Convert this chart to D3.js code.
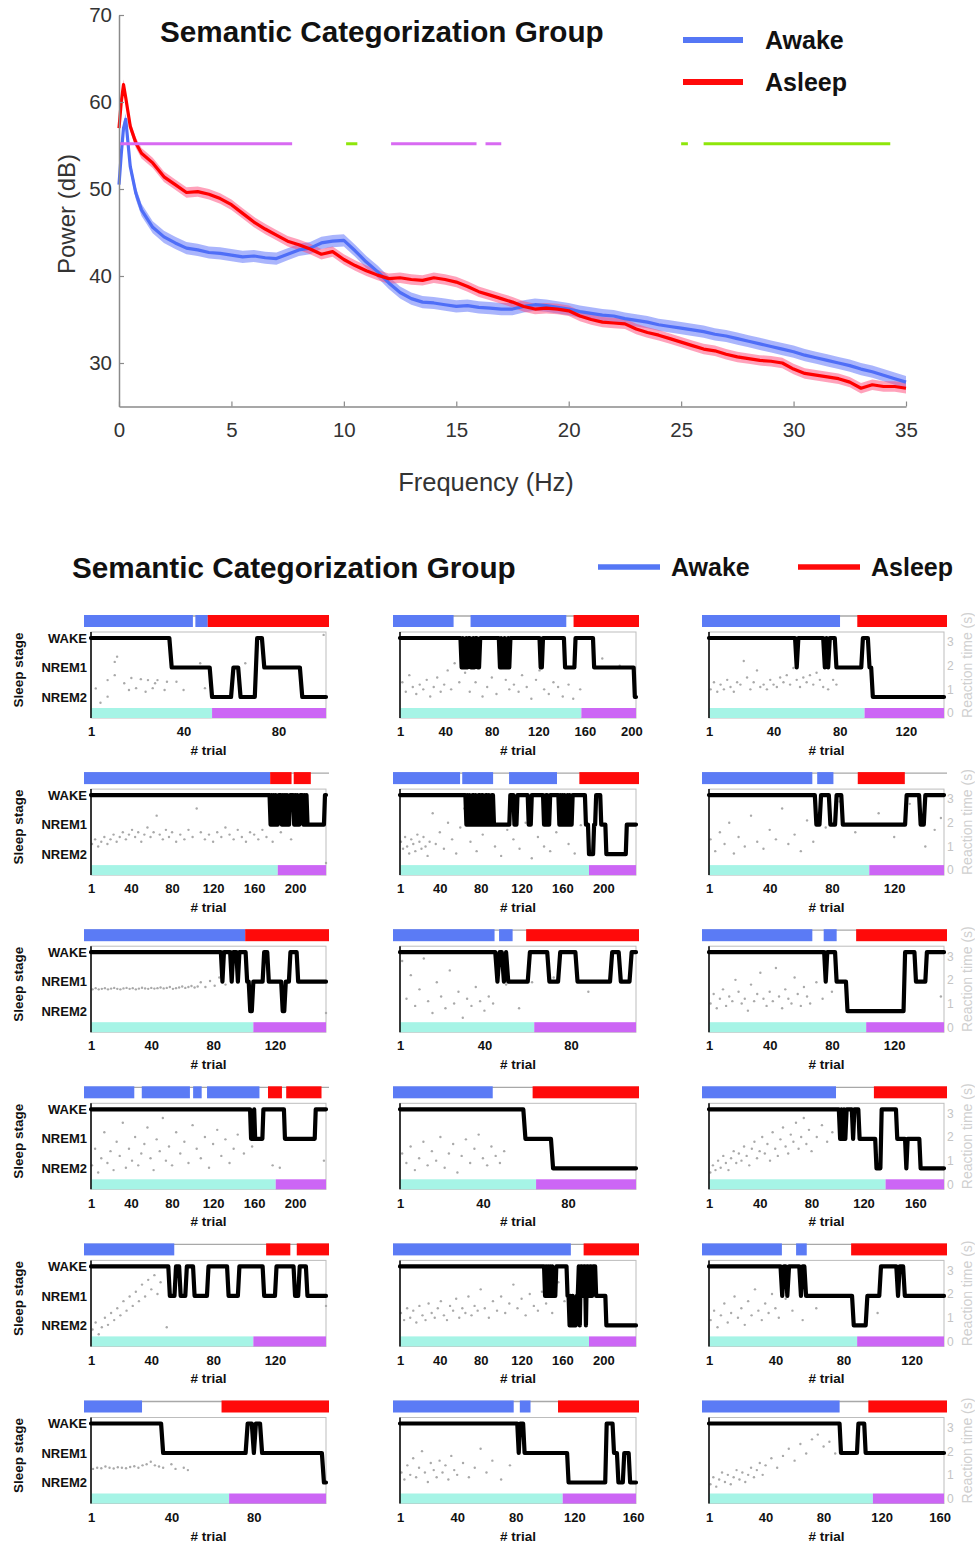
<!DOCTYPE html>
<html><head><meta charset="utf-8">
<script src="https://cdn.jsdelivr.net/npm/d3@7"></script>
<style>body{margin:0;background:#fff}svg{display:block}</style>
</head><body>
<svg id="chart" width="975" height="1544"></svg>
<script>
// ===================== DATA =====================
const chartTitle = "Semantic Categorization Group";
const seriesNames = ["Awake", "Asleep"];
const freqHz = [0,0.1,0.2,0.3,0.5,0.75,1,1.5,2,2.5,3,3.5,4,4.5,5,5.5,6,6.5,7,7.5,8,8.5,9,9.5,10,10.5,11,11.5,12,12.5,13,13.5,14,14.5,15,15.5,16,16.5,17,17.5,18,18.5,19,19.5,20,20.5,21,21.5,22,22.5,23,23.5,24,24.5,25,25.5,26,26.5,27,27.5,28,28.5,29,29.5,30,30.5,31,31.5,32,32.5,33,33.5,34,34.5,35];
const awakePower = [50.5,54,57,58,52.6,49.5,47.6,45.6,44.5,43.8,43.2,43.0,42.7,42.6,42.4,42.2,42.3,42.1,42.0,42.5,43.0,43.2,43.8,44.0,44.1,42.9,41.6,40.5,39.2,38.1,37.4,37.0,36.9,36.7,36.5,36.6,36.4,36.3,36.2,36.2,36.5,36.7,36.6,36.4,36.2,35.9,35.7,35.5,35.4,35.1,34.9,34.7,34.4,34.2,34.0,33.8,33.6,33.3,33.1,32.8,32.5,32.2,31.9,31.6,31.3,30.9,30.6,30.3,30.0,29.7,29.3,29.0,28.6,28.2,27.8];
const asleepPower = [57,60,62,60.5,57.2,55.3,54.1,53.0,51.4,50.5,49.6,49.7,49.4,48.9,48.2,47.2,46.2,45.4,44.7,44.0,43.6,43.1,42.5,42.8,41.9,41.2,40.6,40.1,39.7,39.8,39.6,39.5,39.8,39.6,39.3,38.8,38.2,37.8,37.4,37.0,36.5,36.2,36.3,36.2,36.0,35.4,35.0,34.7,34.6,34.5,33.9,33.5,33.2,32.8,32.4,32.0,31.6,31.4,31.0,30.7,30.5,30.3,30.2,30.0,29.3,28.8,28.6,28.4,28.2,27.8,27.1,27.5,27.3,27.3,27.1];
const semAwake = 0.7;
const semAsleep = 0.6;
const freqTicks = [0,5,10,15,20,25,30,35];
const powerTicks = [30,40,50,60,70];
const sigLevel = 55.2;
const sigMagenta = [[0,7.7],[12.1,15.9],[16.3,17.0]];
const sigGreen = [[10.1,10.6],[25.0,25.3],[26.0,34.3]];

const stageLabels = ["WAKE","NREM1","NREM2"];
const rtTicks = [0,1,2,3];
const panelTrials = [100,204,143,230,232,152,153,110,152,230,112,182,153,232,139,115,162,163];
const panelTicks = [
 [1,40,80],[1,40,80,120,160,200],[1,40,80,120],
 [1,40,80,120,160,200],[1,40,80,120,160,200],[1,40,80,120],
 [1,40,80,120],[1,40,80],[1,40,80,120],
 [1,40,80,120,160,200],[1,40,80],[1,40,80,120,160],
 [1,40,80,120],[1,40,80,120,160,200],[1,40,80,120],
 [1,40,80],[1,40,80,120,160],[1,40,80,120,160]];
const panelAwakeBars = [
 [[1,45],[46,51]],[[1,51],[65,144]],[[1,81]],
 [[1,175]],[[1,64],[66,95],[110,155]],[[1,69],[72,82]],
 [[1,101]],[[1,46],[48,54]],[[1,69],[76,84]],
 [[1,48],[55,100],[103,111],[116,165]],[[1,46]],[[1,100]],
 [[1,57]],[[1,168]],[[1,46],[54,60]],
 [[1,28]],[[1,80],[84,91]],[[1,92]]];
const panelAsleepBars = [
 [[51,100]],[[150,204]],[[91,143]],
 [[175,195],[197,213]],[[176,232]],[[97,126]],
 [[101,153]],[[60,110]],[[96,152]],
 [[173,186],[190,223]],[[64,112]],[[128,182]],
 [[114,129],[133,153]],[[180,232]],[[85,139]],
 [[65,115]],[[109,162]],[[111,163]]];
const panelSplit = [52,157,95,183,186,104,106,63,102,181,65,137,106,186,88,68,112,114];
const panelHypno = [
 [[1,0],[35,1],[52,2],[61,1],[64,2],[71,0],[74,1],[90,2]],
 [[1,0],[54,1],[55,0],[56,1],[58,0],[59,1],[60,0],[62,1],[64,0],[65,1],[66,0],[68,1],[70,0],[87,1],[88,0],[89,1],[91,0],[92,1],[94,0],[95,1],[96,0],[122,1],[124,0],[143,1],[152,0],[168,1],[203,2]],
 [[1,0],[54,1],[55,0],[71,1],[72,0],[73,1],[74,0],[78,1],[94,0],[98,1],[100,2]],
 [[1,0],[176,1],[177,0],[178,1],[179,0],[180,1],[181,0],[182,1],[184,0],[187,1],[188,0],[189,1],[190,0],[191,1],[192,0],[193,1],[195,0],[199,1],[200,0],[201,1],[202,0],[203,1],[205,0],[208,1],[209,0],[210,1],[211,0],[212,1],[229,0]],
 [[1,0],[66,1],[67,0],[68,1],[69,0],[70,1],[72,0],[74,1],[75,0],[76,1],[78,0],[80,1],[81,0],[83,1],[85,0],[87,1],[88,0],[89,1],[91,0],[93,1],[109,0],[113,1],[116,0],[127,1],[130,0],[142,1],[144,0],[146,1],[148,0],[157,1],[158,0],[159,1],[160,0],[161,1],[162,0],[163,1],[165,0],[166,1],[167,0],[168,1],[170,0],[183,1],[186,2],[191,1],[193,0],[198,1],[203,2],[223,1]],
 [[1,0],[70,1],[73,0],[79,1],[83,0],[87,1],[128,0],[137,1],[140,0]],
 [[1,0],[86,1],[87,0],[92,1],[93,0],[96,1],[97,0],[102,1],[104,2],[106,1],[113,0],[116,1],[125,2],[127,1],[130,0],[135,1]],
 [[1,0],[46,1],[47,0],[49,1],[50,0],[51,1],[61,0],[70,1],[75,0],[83,1],[99,0],[103,1],[108,0]],
 [[1,0],[76,1],[77,0],[83,1],[90,2],[127,0],[134,1],[141,0]],
 [[1,0],[157,1],[160,0],[161,1],[169,0],[190,1],[220,0]],
 [[1,0],[60,1],[73,2]],
 [[1,0],[102,1],[103,0],[104,1],[105,0],[106,1],[107,0],[112,1],[113,0],[117,1],[130,2],[134,0],[146,1],[153,2],[154,1],[164,2]],
 [[1,0],[52,1],[56,0],[59,1],[63,0],[68,1],[77,0],[90,1],[97,0],[113,1],[121,0],[133,1],[136,0],[141,1]],
 [[1,0],[143,1],[144,0],[145,1],[146,0],[147,1],[148,0],[149,1],[150,0],[151,1],[154,0],[165,1],[167,2],[168,1],[169,2],[170,1],[171,2],[174,1],[176,0],[177,2],[178,0],[180,1],[181,0],[183,2],[184,0],[186,1],[187,0],[189,1],[190,0],[193,1],[203,2]],
 [[1,0],[44,1],[45,0],[47,1],[48,0],[55,1],[56,0],[58,1],[86,2],[94,1],[102,0],[112,1],[113,0],[116,1]],
 [[1,0],[36,1],[77,0],[80,1],[81,0],[84,1],[114,2]],
 [[1,0],[82,1],[83,0],[86,1],[116,2],[142,0],[147,1],[150,2],[154,1],[158,2]],
 [[1,0],[92,1],[104,0],[109,1]]];
const panelRT = [
 [[3,1.04],[5,0.43],[8,1.39],[8,0.69],[11,2.16],[12,2.38],[11,1.6],[15,1.26],[17,0.97],[18,1.48],[20,1.05],[22,1.43],[24,0.9],[25,1.39],[27,1.05],[28,1.26],[29,1.39],[32,0.97],[33,1.32],[37,1.32],[40,0.97],[47,2.1],[49,1.05],[66,2.1],[99,3.3]],
 [[3,1.3],[6,0.9],[9,1.6],[12,1.1],[15,0.8],[18,1.2],[21,1.0],[24,1.4],[27,0.7],[30,1.1],[33,1.5],[36,0.9],[39,1.2],[42,1.8],[45,1.0],[48,2.1],[52,1.3],[57,1.7],[61,0.9],[66,1.3],[72,0.7],[76,1.1],[80,1.5],[84,0.8],[88,1.9],[92,1.4],[95,1.0],[99,1.2],[103,0.9],[106,1.6],[110,1.1],[114,0.6],[118,1.4],[121,1.8],[125,1.0],[129,0.8],[133,1.3],[137,1.1],[141,0.7],[146,1.2],[150,0.6],[156,1.0],[175,2.3],[190,2.0]],
 [[2,1.0],[4,1.3],[6,0.9],[8,1.2],[10,1.0],[12,1.4],[14,1.1],[16,0.9],[18,1.3],[20,1.2],[22,2.2],[24,1.5],[26,1.0],[28,1.3],[30,1.8],[32,1.1],[34,1.2],[36,1.0],[38,1.4],[40,1.2],[42,1.1],[44,1.5],[46,1.3],[48,1.6],[50,1.2],[52,1.9],[54,1.4],[56,1.1],[58,1.5],[60,1.3],[62,1.6],[64,1.2],[66,1.7],[68,1.4],[70,1.1],[73,1.0],[76,1.4],[78,1.2]],
 [[2,1.1],[5,1.3],[8,1.0],[11,1.2],[14,1.4],[17,1.1],[20,1.3],[23,1.5],[26,1.2],[29,1.4],[32,1.6],[35,1.3],[38,1.5],[41,1.7],[44,1.4],[47,1.6],[50,1.2],[53,1.5],[56,1.8],[59,1.4],[62,1.6],[65,2.3],[68,1.5],[71,1.3],[74,1.7],[77,1.4],[80,1.6],[84,1.2],[88,1.5],[92,1.3],[96,1.7],[100,1.4],[104,2.6],[108,1.6],[112,1.3],[116,1.5],[120,1.2],[124,1.6],[128,1.4],[132,1.8],[136,1.5],[140,1.3],[144,1.7],[148,1.4],[152,1.2],[156,1.6],[160,1.5],[164,1.3],[168,1.7],[172,1.4],[178,1.2],[186,1.6],[196,1.3],[230,0.3]],
 [[2,1.2],[4,0.9],[6,1.4],[8,1.0],[10,0.7],[12,1.3],[14,1.1],[16,0.8],[18,1.5],[20,1.2],[22,0.9],[24,1.4],[26,1.0],[28,0.6],[30,1.2],[33,2.4],[36,1.1],[40,1.6],[44,0.9],[48,2.0],[52,1.3],[56,0.7],[60,1.8],[64,2.6],[70,1.2],[76,0.8],[82,1.5],[88,2.2],[94,1.0],[100,0.6],[106,1.7],[112,1.3],[118,0.9],[124,2.0],[130,0.5],[136,1.4],[142,1.0],[148,0.8],[154,1.6],[160,2.3],[166,1.1],[172,0.7],[178,1.9]],
 [[2,1.3],[5,0.8],[8,1.6],[11,1.1],[14,2.0],[17,0.7],[20,1.4],[24,1.0],[28,2.3],[32,1.2],[36,0.9],[40,1.7],[44,1.3],[48,2.6],[52,1.1],[56,1.5],[60,0.8],[64,2.1],[68,1.2],[76,1.8],[85,2.9],[95,1.6],[110,2.4],[120,1.4],[130,2.8],[140,1.0],[146,1.7],[150,2.2]],
 [[2,1.6],[4,1.65],[6,1.6],[8,1.62],[10,1.65],[12,1.6],[14,1.63],[16,1.66],[18,1.62],[20,1.6],[22,1.64],[24,1.66],[26,1.62],[28,1.65],[30,1.6],[32,1.63],[34,1.67],[36,1.64],[38,1.62],[40,1.66],[42,1.63],[44,1.65],[46,1.68],[48,1.64],[50,1.66],[52,1.7],[54,1.62],[56,1.65],[58,1.68],[60,1.72],[62,1.66],[64,1.7],[66,1.74],[68,1.68],[70,1.72],[72,1.9],[75,1.7],[78,1.95],[81,1.75],[84,2.1],[88,1.8],[92,2.0],[153,0.6]],
 [[2,2.8],[4,1.2],[6,2.2],[8,0.9],[10,1.6],[12,2.9],[14,1.1],[16,0.6],[18,1.9],[20,1.3],[22,0.8],[24,2.4],[26,1.0],[28,1.5],[30,0.4],[32,1.2],[34,0.9],[36,1.7],[38,1.1],[40,0.7],[42,1.3],[44,1.0],[50,1.8],[56,0.8],[62,1.9],[72,2.1],[88,1.5]],
 [[2,1.0],[4,1.4],[6,0.8],[8,1.2],[10,1.6],[12,0.9],[14,1.3],[16,1.1],[18,2.0],[20,1.5],[22,1.0],[24,1.2],[26,0.7],[28,1.8],[30,1.1],[32,1.4],[34,2.3],[36,1.2],[38,0.9],[40,1.5],[42,1.1],[44,2.5],[46,1.3],[48,0.8],[50,1.6],[52,1.2],[54,1.0],[56,2.1],[58,1.4],[60,0.9],[62,1.7],[64,1.3],[66,1.0],[70,1.9],[74,1.2],[80,1.5],[150,1.3]],
 [[2,0.8],[5,1.5],[8,0.5],[11,1.1],[14,2.2],[17,0.9],[20,1.4],[23,0.6],[26,1.8],[29,1.2],[32,2.6],[35,0.7],[38,1.5],[41,1.0],[44,2.0],[47,0.8],[50,1.3],[53,1.7],[56,2.4],[59,1.1],[62,0.6],[65,1.9],[68,1.4],[71,2.8],[74,1.0],[77,1.6],[80,0.8],[84,2.2],[88,1.3],[92,1.8],[96,0.9],[100,2.5],[104,1.5],[108,1.1],[112,2.0],[116,0.7],[120,1.7],[124,2.3],[128,1.2],[132,1.9],[136,0.9],[140,1.5],[144,2.1],[150,1.3],[158,1.6],[178,0.8],[185,0.7],[228,1.0]],
 [[2,1.3],[4,0.9],[6,1.6],[8,0.6],[10,1.1],[12,1.8],[14,0.8],[16,1.4],[18,1.0],[20,2.0],[22,0.7],[24,1.3],[26,1.7],[28,0.5],[30,1.2],[32,1.9],[34,0.9],[36,1.5],[38,2.1],[40,1.1],[42,0.8],[44,1.6],[46,1.2],[48,0.9],[50,1.4]],
 [[2,0.5],[4,0.8],[6,0.6],[8,1.0],[10,0.7],[12,1.2],[14,0.9],[16,0.6],[18,1.1],[20,1.4],[22,0.9],[24,1.3],[26,1.0],[28,1.6],[30,1.2],[32,0.8],[34,1.5],[36,1.8],[38,1.1],[40,1.4],[42,2.0],[44,1.3],[46,1.7],[48,1.0],[50,2.2],[52,1.5],[54,1.2],[56,1.9],[58,2.4],[60,1.6],[62,1.3],[64,2.1],[66,1.8],[68,2.6],[70,1.5],[72,2.0],[74,2.8],[76,1.7],[78,2.3],[80,1.4],[84,2.0],[88,2.5],[92,1.8],[96,2.2]],
 [[2,0.5],[4,0.8],[6,0.3],[8,0.6],[10,1.0],[12,0.7],[14,1.2],[16,0.9],[18,1.4],[20,1.1],[22,1.7],[24,1.3],[26,1.9],[28,1.5],[30,2.1],[32,1.7],[34,2.4],[36,1.9],[38,2.6],[40,2.2],[42,2.8],[44,2.0],[46,2.5],[50,0.6],[153,1.5]],
 [[2,1.2],[5,0.9],[8,1.4],[11,1.0],[14,1.3],[17,0.8],[20,1.5],[23,1.1],[26,0.9],[29,1.6],[32,1.2],[35,1.0],[38,1.4],[41,1.7],[44,1.1],[47,0.9],[50,1.5],[53,1.3],[56,1.8],[59,1.0],[62,1.4],[65,1.2],[68,1.9],[71,1.1],[74,1.5],[77,1.3],[80,2.2],[84,1.4],[88,1.0],[92,1.7],[96,1.3],[100,1.9],[104,1.2],[108,1.6],[112,2.4],[116,1.4],[120,1.8],[124,1.1],[128,2.0],[132,1.5],[136,1.3],[140,2.1],[144,1.6],[150,1.2],[156,2.5],[162,1.7],[168,1.4]],
 [[2,0.9],[4,1.3],[6,0.6],[8,1.1],[10,1.6],[12,0.8],[14,1.2],[16,1.9],[18,1.0],[20,1.4],[22,0.7],[24,1.7],[26,1.1],[28,2.2],[30,1.3],[32,0.9],[34,1.6],[36,1.2],[38,2.0],[40,1.4],[42,1.0],[46,1.8],[50,1.3],[56,0.9],[64,1.4],[100,1.2]],
 [[2,1.25],[4,1.3],[6,1.28],[8,1.35],[10,1.3],[12,1.27],[14,1.32],[16,1.3],[18,1.28],[20,1.33],[22,1.36],[24,1.3],[26,1.4],[28,1.45],[30,1.55],[32,1.4],[34,1.35],[36,1.3],[40,1.45],[42,1.25],[46,1.3],[48,1.2]],
 [[2,1.1],[4,0.8],[6,1.4],[8,1.0],[10,1.7],[12,0.9],[14,1.3],[16,2.0],[18,1.1],[20,0.7],[22,1.5],[24,1.2],[26,0.9],[28,1.6],[30,1.1],[32,1.4],[34,0.8],[36,1.8],[38,1.2],[40,1.0],[44,1.5],[48,0.9],[52,1.3],[56,2.1],[60,1.1],[64,1.6],[70,0.8],[76,1.4]],
 [[2,0.6],[4,0.9],[6,0.5],[8,0.8],[10,1.1],[12,0.7],[14,1.0],[16,0.6],[18,0.9],[20,1.2],[22,0.8],[24,1.1],[26,0.7],[28,1.0],[30,1.3],[32,0.9],[34,1.2],[36,1.5],[38,1.0],[40,1.4],[44,1.7],[48,1.3],[52,1.8],[56,2.1],[60,1.6],[64,2.3],[68,1.9],[72,2.5],[76,2.7],[80,2.2],[84,2.4],[88,1.9]]];

// ===================== DRAW =====================
const FONT = "'Liberation Sans', Arial, Helvetica, sans-serif";
const BLUE = "#5b7bf5", RED = "#ff0a0a", CYAN = "#a6f4e6", MAG = "#cc66f5";
const svg = d3.select("#chart").attr("font-family", FONT);

// ---- Top spectrum chart ----
const gTop = svg.append("g");
const xF = d3.scaleLinear().domain([0,35]).range([119,906]);
const yP = d3.scaleLinear().domain([25,70]).range([406.5,15]);

function bandArea(sem){
  return d3.area().x((d,i)=>xF(freqHz[i])).y0(d=>yP(d-sem)).y1(d=>yP(d+sem));
}
const lineGen = d3.line().x((d,i)=>xF(freqHz[i])).y(d=>yP(d));

gTop.append("path").datum(awakePower).attr("d", bandArea(semAwake)).attr("fill","rgba(100,120,250,0.55)");
gTop.append("path").datum(asleepPower).attr("d", bandArea(semAsleep)).attr("fill","rgba(255,70,120,0.5)");
gTop.append("path").datum(awakePower).attr("d", lineGen).attr("fill","none").attr("stroke","#4f6ef7").attr("stroke-width",3.2).attr("stroke-linejoin","round");
gTop.append("path").datum(asleepPower).attr("d", lineGen).attr("fill","none").attr("stroke","#ff0000").attr("stroke-width",3.2).attr("stroke-linejoin","round");

sigMagenta.forEach(s=>gTop.append("line").attr("x1",xF(s[0])).attr("x2",xF(s[1])).attr("y1",yP(sigLevel)).attr("y2",yP(sigLevel)).attr("stroke","#d86af2").attr("stroke-width",3));
sigGreen.forEach(s=>gTop.append("line").attr("x1",xF(s[0])).attr("x2",xF(s[1])).attr("y1",yP(sigLevel)).attr("y2",yP(sigLevel)).attr("stroke","#8ee60a").attr("stroke-width",3));

function styleAxis(g){
  g.select(".domain").attr("stroke","#8a8a8a").attr("stroke-width",1.5);
  g.selectAll(".tick line").attr("stroke","#8a8a8a").attr("stroke-width",1.2);
  g.selectAll(".tick text").attr("font-size",20.5).attr("fill","#333").attr("font-family",FONT);
}
gTop.append("g").attr("transform","translate(119,0)")
  .call(d3.axisLeft(yP).tickValues(powerTicks).tickSize(-5).tickSizeOuter(0).tickPadding(7))
  .call(styleAxis);
gTop.append("g").attr("transform","translate(0,406.5)")
  .call(d3.axisBottom(xF).tickValues(freqTicks).tickSize(-5).tickSizeOuter(0).tickPadding(16))
  .call(styleAxis);

gTop.append("text").attr("transform","translate(75,214) rotate(-90)").attr("text-anchor","middle")
  .attr("font-size",24).attr("fill","#333").text("Power (dB)");
gTop.append("text").attr("x",486).attr("y",491).attr("text-anchor","middle")
  .attr("font-size",25.5).attr("fill","#333").text("Frequency (Hz)");
gTop.append("text").attr("x",160).attr("y",42).attr("font-size",29.7).attr("font-weight","bold").attr("fill","#111").text(chartTitle);

const legTop = [{y:40,c:"#5577f5"},{y:82,c:"#ff0a0a"}];
legTop.forEach((l,i)=>{
  gTop.append("line").attr("x1",683).attr("x2",743).attr("y1",l.y).attr("y2",l.y).attr("stroke",l.c).attr("stroke-width",6);
  gTop.append("text").attr("x",765).attr("y",l.y+8.5).attr("font-size",25).attr("font-weight","bold").attr("fill","#111").text(seriesNames[i]);
});

// ---- Bottom panel grid ----
const gB = svg.append("g");
gB.append("text").attr("x",72).attr("y",578).attr("font-size",29.7).attr("font-weight","bold").attr("fill","#111").text(chartTitle);
[{x:598,tx:671,c:"#5577f5"},{x:798,tx:871,c:"#ff0a0a"}].forEach((l,i)=>{
  gB.append("line").attr("x1",l.x).attr("x2",l.x+62).attr("y1",567).attr("y2",567).attr("stroke",l.c).attr("stroke-width",5.5);
  gB.append("text").attr("x",l.tx).attr("y",576).attr("font-size",25).attr("font-weight","bold").attr("fill","#111").text(seriesNames[i]);
});

const colX0 = [91,400,709], colX1 = [326,636,944];
const ROW0 = 615, ROWH = 157.1;

function expand(cp, n){
  const out = []; let k = 0;
  for(let t=1;t<=n;t++){
    while(k+1<cp.length && cp[k+1][0]<=t) k++;
    out.push([t, cp[k][1]]);
  }
  return out;
}

panelTrials.forEach((n,i)=>{
  const r = Math.floor(i/3), c = i%3;
  const t0 = ROW0 + r*ROWH;
  const x0 = colX0[c], x1 = colX1[c];
  const xs = d3.scaleLinear().domain([1,n]).range([x0,x1]);
  const xb = d3.scaleLinear().domain([1,n]).range([x0-7,x1+3]);
  const ys = d3.scaleLinear().domain([0,2]).range([t0+23,t0+82]);
  const yr = d3.scaleLinear().domain([0,3]).range([t0+98,t0+27]);
  const g = gB.append("g");

  g.append("line").attr("x1",xb(1)).attr("x2",xb(n)).attr("y1",t0+1).attr("y2",t0+1).attr("stroke","#a8a8a8").attr("stroke-width",1.3);
  panelAwakeBars[i].forEach(s=>g.append("rect").attr("x",xb(s[0])).attr("y",t0).attr("width",Math.max(1,xb(s[1])-xb(s[0]))).attr("height",12).attr("fill",BLUE));
  panelAsleepBars[i].forEach(s=>g.append("rect").attr("x",xb(s[0])).attr("y",t0).attr("width",Math.max(1,xb(s[1])-xb(s[0]))).attr("height",12).attr("fill",RED));

  g.append("rect").attr("x",x0).attr("y",t0+17).attr("width",x1-x0).attr("height",86).attr("fill","none").attr("stroke","#bdbdbd").attr("stroke-width",1);

  g.append("rect").attr("x",xs(1)).attr("y",t0+93).attr("width",xs(panelSplit[i])-xs(1)).attr("height",10).attr("fill",CYAN);
  g.append("rect").attr("x",xs(panelSplit[i])).attr("y",t0+93).attr("width",xs(n)-xs(panelSplit[i])).attr("height",10).attr("fill",MAG);

  g.selectAll("circle.rt").data(panelRT[i]).join("circle").attr("class","rt")
    .attr("cx",d=>xs(d[0])).attr("cy",d=>yr(d[1])).attr("r",1.2).attr("fill","#a9a9a9");

  const hyp = expand(panelHypno[i], n);
  g.append("path").datum(hyp).attr("d", d3.line().x(d=>xs(d[0])).y(d=>ys(d[1])))
    .attr("fill","none").attr("stroke","#000").attr("stroke-width",4.2).attr("stroke-linejoin","round").attr("stroke-linecap","round");

  g.append("line").attr("x1",x0).attr("x2",x0).attr("y1",t0+17).attr("y2",t0+103).attr("stroke","#000").attr("stroke-width",1.5);

  const ax = g.append("g").attr("transform",`translate(0,${t0+103})`)
    .call(d3.axisBottom(xs).tickValues(panelTicks[i]).tickFormat(d3.format("d")).tickSize(0).tickPadding(9));
  ax.select(".domain").remove();
  ax.selectAll("text").attr("font-size",13).attr("font-weight","bold").attr("fill","#111").attr("font-family",FONT);
  g.append("text").attr("x",(x0+x1)/2).attr("y",t0+140).attr("text-anchor","middle")
    .attr("font-size",13.5).attr("font-weight","bold").attr("fill","#111").text("# trial");

  if(c===0){
    const ay = g.append("g").attr("transform",`translate(${x0},0)`)
      .call(d3.axisLeft(ys).tickValues([0,1,2]).tickFormat(k=>stageLabels[k]).tickSize(0).tickPadding(4));
    ay.select(".domain").remove();
    ay.selectAll("text").attr("font-size",13).attr("font-weight","bold").attr("fill","#111").attr("font-family",FONT);
    g.append("text").attr("transform",`translate(23,${t0+55}) rotate(-90)`).attr("text-anchor","middle")
      .attr("font-size",13.5).attr("font-weight","bold").attr("fill","#111").text("Sleep stage");
  }
  if(c===2){
    const ar = g.append("g").attr("transform",`translate(${x1},0)`)
      .call(d3.axisRight(yr).tickValues(rtTicks).tickFormat(d3.format("d")).tickSize(0).tickPadding(3));
    ar.select(".domain").remove();
    ar.selectAll("text").attr("font-size",12).attr("fill","#c4c4c4").attr("font-family",FONT);
    g.append("text").attr("transform",`translate(972,${t0+50}) rotate(-90)`).attr("text-anchor","middle")
      .attr("font-size",14).attr("fill","#d0d0d0").text("Reaction time (s)");
  }
});
</script>
</body></html>
